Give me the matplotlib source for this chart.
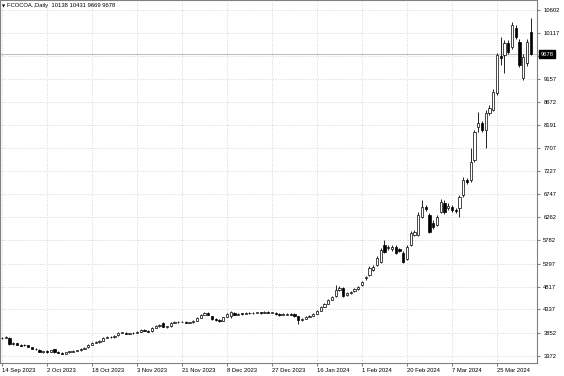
import numpy as np
import matplotlib
matplotlib.use('Agg')
import matplotlib.pyplot as plt

# дневные свечи FCOCOA (open, high, low, close)
opens = [3730, 3750, 3735, 3615, 3630, 3600, 3585, 3590, 3550, 3520,
         3490, 3450, 3465, 3455, 3500, 3445, 3430, 3410, 3440, 3455,
         3470, 3480, 3515, 3545, 3600, 3645, 3655, 3680, 3745, 3770,
         3760, 3800, 3850, 3850, 3830, 3835, 3855, 3870, 3915, 3895,
         3880, 3955, 3990, 4060, 3975, 3990, 4060, 4085, 4075, 4080,
         4060, 4065, 4105, 4165, 4230, 4265, 4190, 4140, 4125, 4105,
         4180, 4200, 4270, 4230, 4250, 4245, 4260, 4270, 4265, 4275,
         4265, 4290, 4270, 4270, 4250, 4225, 4230, 4250, 4250, 4190,
         4110, 4140, 4185, 4205, 4250, 4310, 4390, 4460, 4540, 4620,
         4750, 4790, 4640, 4680, 4720, 4770, 4840, 4990, 5060, 5170,
         5270, 5335, 5690, 5620, 5600, 5650, 5600, 5525, 5400, 5690,
         5900, 5900, 6275, 6480, 6320, 6150, 6110, 6380, 6570, 6450,
         6485, 6420, 6465, 6735, 7040, 7050, 7465, 8150, 8240, 8095,
         8450, 8520, 8870, 9640, 9660, 9910, 9830, 10225, 9935, 9180,
         9495, 10138]
highs = [3765, 3785, 3760, 3655, 3645, 3615, 3615, 3600, 3560, 3535,
         3500, 3475, 3480, 3495, 3510, 3460, 3440, 3450, 3470, 3485,
         3495, 3530, 3555, 3610, 3655, 3675, 3695, 3760, 3780, 3785,
         3805, 3865, 3870, 3860, 3850, 3870, 3885, 3930, 3925, 3905,
         3970, 4010, 4035, 4085, 3995, 4075, 4095, 4100, 4100, 4090,
         4080, 4115, 4180, 4240, 4290, 4275, 4205, 4150, 4135, 4185,
         4260, 4300, 4280, 4265, 4265, 4275, 4285, 4285, 4290, 4285,
         4305, 4300, 4290, 4280, 4260, 4265, 4265, 4260, 4265, 4200,
         4160, 4200, 4220, 4265, 4325, 4410, 4470, 4560, 4620, 4855,
         4830, 4805, 4700, 4730, 4790, 4820, 4940, 5040, 5240, 5260,
         5450, 5620, 5795, 5690, 5680, 5680, 5630, 5550, 5680, 5980,
         6000, 6380, 6630, 6530, 6350, 6200, 6310, 6640, 6620, 6560,
         6520, 6460, 6740, 7100, 7090, 7720, 8100, 8470, 8290, 8500,
         8620, 8940, 9700, 10040, 9970, 9980, 10350, 10290, 9990, 9680,
         9990, 10431]
lows = [3715, 3740, 3590, 3600, 3590, 3565, 3570, 3545, 3505, 3485,
        3440, 3435, 3435, 3445, 3430, 3420, 3395, 3400, 3430, 3445,
        3460, 3470, 3505, 3535, 3590, 3630, 3645, 3670, 3735, 3745,
        3750, 3790, 3835, 3815, 3815, 3825, 3845, 3860, 3880, 3860,
        3870, 3945, 3980, 3960, 3955, 3980, 4050, 4060, 4065, 4045,
        4050, 4055, 4095, 4155, 4220, 4215, 4125, 4105, 4080, 4095,
        4170, 4165, 4215, 4220, 4230, 4235, 4250, 4250, 4255, 4250,
        4255, 4255, 4255, 4230, 4210, 4215, 4220, 4215, 4180, 4040,
        4095, 4130, 4170, 4195, 4240, 4300, 4380, 4445, 4525, 4600,
        4730, 4600, 4620, 4660, 4700, 4750, 4820, 4960, 5040, 5150,
        5250, 5310, 5520, 5580, 5570, 5500, 5540, 5300, 5370, 5660,
        5870, 5870, 6240, 6400, 5930, 6020, 6080, 6350, 6340, 6420,
        6380, 6360, 6275, 6700, 6960, 7000, 7420, 8050, 8040, 7720,
        8400, 8480, 8820, 9450, 9285, 9680, 9780, 9990, 9400, 9140,
        9440, 9669]
closes = [3747, 3768, 3610, 3640, 3600, 3580, 3600, 3560, 3520, 3500,
          3455, 3460, 3450, 3480, 3440, 3435, 3415, 3440, 3460, 3475,
          3480, 3520, 3540, 3600, 3640, 3660, 3680, 3745, 3765, 3760,
          3790, 3850, 3855, 3830, 3835, 3855, 3870, 3915, 3895, 3875,
          3955, 3995, 4020, 3975, 3985, 4060, 4080, 4075, 4085, 4060,
          4065, 4100, 4165, 4225, 4270, 4230, 4140, 4125, 4100, 4170,
          4245, 4275, 4230, 4250, 4245, 4260, 4270, 4265, 4275, 4265,
          4290, 4270, 4270, 4245, 4225, 4250, 4250, 4230, 4190, 4110,
          4145, 4185, 4205, 4250, 4310, 4395, 4455, 4540, 4600, 4750,
          4790, 4625, 4685, 4710, 4770, 4800, 4915, 5010, 5210, 5230,
          5420, 5585, 5545, 5650, 5640, 5525, 5570, 5335, 5650, 5940,
          5960, 6320, 6485, 6440, 5960, 6070, 6275, 6590, 6380, 6500,
          6420, 6400, 6700, 7050, 7010, 7425, 8050, 8240, 8095, 8450,
          8560, 8890, 9660, 9600, 9910, 9725, 10290, 10040, 9450, 9620,
          9935, 9678]

date_pos = [0, 12, 24, 36, 48, 60, 72, 84, 96, 108, 120, 132]
date_labels = ['14 Sep 2023', '2 Oct 2023', '18 Oct 2023', '3 Nov 2023', '21 Nov 2023',
               '8 Dec 2023', '27 Dec 2023', '16 Jan 2024', '1 Feb 2024', '20 Feb 2024',
               '7 Mar 2024', '25 Mar 2024']
price_ticks = [3372, 3852, 4337, 4817, 5297, 5782, 6262, 6747, 7227, 7707,
               8191, 8672, 9157, 9637, 10117, 10602]
price_labels = [str(p) for p in price_ticks]
price_labels[price_ticks.index(9637)] = ''  # закрыто плашкой текущей цены

plt.rcParams['font.family'] = ['Liberation Sans', 'DejaVu Sans']
fs = 4.2

fig = plt.figure(figsize=(5.64, 3.76), dpi=100)
ax = fig.add_axes([0, 13 / 376, 537 / 564, 363 / 376])

x = np.arange(len(closes))
o = np.array(opens); c = np.array(closes)
h = np.array(highs); l = np.array(lows)
up = c >= o

ax.grid(True, color='#c8c8c8', linestyle=(0, (1, 2)), linewidth=0.6)
ax.set_axisbelow(True)

ax.axhline(closes[-1], color='#c0c0c0', linewidth=0.8, zorder=1)

ax.vlines(x, l, h, color='black', linewidth=0.6, zorder=2)
bottom = np.minimum(o, c)
height = np.maximum(np.abs(c - o), 8)
ax.bar(x[up], height[up], bottom=bottom[up], width=0.62, color='white',
       edgecolor='black', linewidth=0.5, zorder=3)
ax.bar(x[~up], height[~up], bottom=bottom[~up], width=0.62, color='black',
       edgecolor='black', linewidth=0.5, zorder=3)

ax.set_xlim(-0.53, 142.67)
ax.set_ylim(3217, 10811)

ax.set_xticks(date_pos)
ax.set_xticklabels(date_labels, fontsize=fs, ha='left')
ax.set_yticks(price_ticks)
ax.set_yticklabels(price_labels, fontsize=fs)
ax.yaxis.tick_right()
ax.tick_params(axis='x', length=2, pad=1.5, color='#808080')
ax.tick_params(axis='y', length=2, pad=2.5, color='#808080')
for s in ax.spines.values():
    s.set_color('#808080')
    s.set_linewidth(0.8)

ax.annotate(str(closes[-1]), xy=(1, closes[-1]), xycoords=('axes fraction', 'data'),
            xytext=(2.5, 0), textcoords='offset points', fontsize=fs, color='white',
            va='center', ha='left',
            bbox=dict(boxstyle='square,pad=0.25', fc='black', ec='black'))

ax.text(2 / 537, 1 - 6 / 363, '\u25bc', transform=ax.transAxes, fontsize=3,
        va='center', ha='left', family='DejaVu Sans')
ax.text(7 / 537, 1 - 6 / 363, 'FCOCOA.,Daily  %d %d %d %d' % (opens[-1], highs[-1], lows[-1], closes[-1]),
        transform=ax.transAxes, fontsize=fs, va='center', ha='left')

fig.savefig('out.png', dpi=100)
